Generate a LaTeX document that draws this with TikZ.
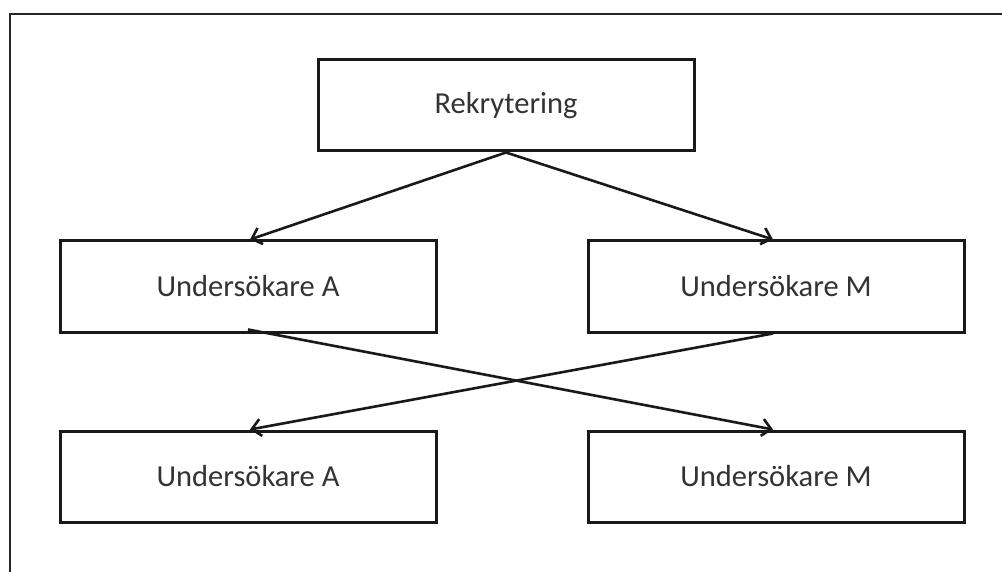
\documentclass[tikz,border=0pt]{standalone}
\usepackage{fontspec}
\setmainfont{Carlito}
\usetikzlibrary{arrows.meta}
\begin{document}
\begin{tikzpicture}[x=1pt,y=-1pt,
  box/.style={draw=black!90,line width=3pt,minimum width=376pt,minimum height=91pt,
    inner sep=0pt,font=\fontsize{30.5}{36}\selectfont,text=black!80},
  conn/.style={draw=black!90,line width=2.6pt,-{Straight Barb[length=9pt,width=17pt,line width=2.6pt]}}]
\useasboundingbox (0,0) rectangle (1002,572);
\draw[line width=2.6pt,black!85] (10,590) -- (10,14) -- (1020,14);
\node[box] (top) at (506,105.5) {Rekrytering};
\node[box] (ml) at (248,286.5) {Undersökare A};
\node[box] (mr) at (776,286.5) {Undersökare M};
\node[box] (bl) at (248,476.5) {Undersökare A};
\node[box] (br) at (776,476.5) {Undersökare M};
\draw[conn] (top.south) -- ([xshift=2pt]ml.north);
\draw[conn] (top.south) -- ([xshift=-3pt]mr.north);
\draw[conn] ([yshift=4pt]ml.south) -- ([xshift=-3pt]br.north);
\draw[conn] ([xshift=-3pt]mr.south) -- ([xshift=2pt]bl.north);
\end{tikzpicture}
\end{document}
